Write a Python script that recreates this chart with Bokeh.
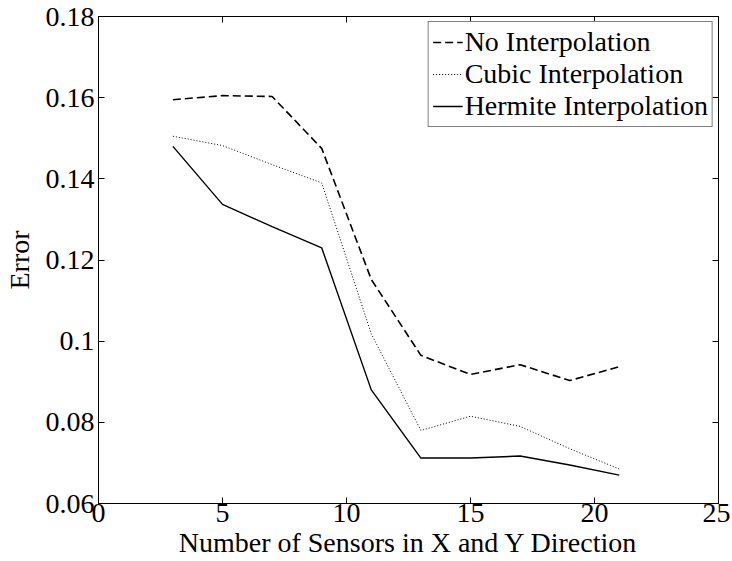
from bokeh.plotting import figure
from bokeh.models import FixedTicker, LinearAxis, Range1d, Legend, LegendItem
from bokeh.embed import file_html
from bokeh.resources import INLINE

x = [3, 5, 7, 9, 11, 13, 15, 17, 19, 21]
no_interp = [0.1595, 0.1605, 0.1603, 0.1475, 0.1152, 0.0965, 0.0918, 0.0942, 0.0903, 0.0937]
cubic = [0.1505, 0.1482, 0.1435, 0.1390, 0.1018, 0.0780, 0.0815, 0.0790, 0.0735, 0.0685]
hermite = [0.1480, 0.1337, 0.1282, 0.1230, 0.0880, 0.0712, 0.0712, 0.0717, 0.0695, 0.0670]

x_ticks = [0, 5, 10, 15, 20, 25]
y_ticks = [0.06, 0.08, 0.10, 0.12, 0.14, 0.16, 0.18]
y_labels = ["0.06", "0.08", "0.1", "0.12", "0.14", "0.16", "0.18"]

FONT = "Liberation Serif"
FS = "28px"

p = figure(width=730, height=560, output_backend="svg", toolbar_location=None,
           x_range=Range1d(0, 25), y_range=Range1d(0.06, 0.18),
           min_border_left=96, min_border_right=12, min_border_top=16, min_border_bottom=56)
p.background_fill_color = "white"
p.border_fill_color = "white"
p.outline_line_color = "black"
p.outline_line_width = 1
p.xgrid.visible = False
p.ygrid.visible = False

for ax in p.xaxis:
    ax.ticker = FixedTicker(ticks=x_ticks)
for ax in p.yaxis:
    ax.ticker = FixedTicker(ticks=y_ticks)
    ax.major_label_overrides = {t: l for t, l in zip(y_ticks, y_labels)}

for ax in list(p.xaxis) + list(p.yaxis):
    ax.major_tick_in = 6
    ax.major_tick_out = 0
    ax.minor_tick_in = 0
    ax.minor_tick_out = 0
    ax.major_label_text_font = FONT
    ax.major_label_text_font_size = FS
    ax.major_label_text_color = "black"
    ax.axis_label_text_font = FONT
    ax.axis_label_text_font_style = "normal"
    ax.axis_label_text_font_size = FS
    ax.axis_label_text_color = "black"
    ax.axis_line_color = "black"
    ax.major_tick_line_color = "black"

p.xaxis.axis_label = "Number of Sensors in X and Y Direction"
p.yaxis.axis_label = "Error"
p.xaxis.major_label_standoff = 0
p.xaxis.axis_label_standoff = 2
p.yaxis.major_label_standoff = 4
p.yaxis.axis_label_standoff = 8

top = LinearAxis(ticker=FixedTicker(ticks=x_ticks),
                 major_label_overrides={t: "" for t in x_ticks},
                 major_tick_in=6, major_tick_out=0, minor_tick_in=0, minor_tick_out=0,
                 major_label_standoff=0)
right = LinearAxis(ticker=FixedTicker(ticks=y_ticks),
                   major_label_overrides={t: "" for t in y_ticks},
                   major_tick_in=6, major_tick_out=0, minor_tick_in=0, minor_tick_out=0,
                   major_label_standoff=0)
p.add_layout(top, "above")
p.add_layout(right, "right")

r1 = p.line(x, no_interp, line_color="black", line_width=1.6, line_dash="8 4")
r2 = p.line(x, cubic, line_color="black", line_width=1.0, line_dash="1 2")
r3 = p.line(x, hermite, line_color="black", line_width=1.4)

legend = Legend(items=[LegendItem(label="No Interpolation", renderers=[r1]),
                       LegendItem(label="Cubic Interpolation", renderers=[r2]),
                       LegendItem(label="Hermite Interpolation", renderers=[r3])],
                location="top_right")
legend.label_text_font = FONT
legend.label_text_font_size = FS
legend.label_text_color = "black"
legend.label_standoff = 2
legend.glyph_width = 30
legend.glyph_height = 32
legend.label_height = 32
legend.spacing = 0
legend.padding = 4
legend.margin = 5
legend.border_line_color = "black"
legend.border_line_width = 1
p.add_layout(legend)

open("out.html", "w").write(file_html(p, INLINE))
